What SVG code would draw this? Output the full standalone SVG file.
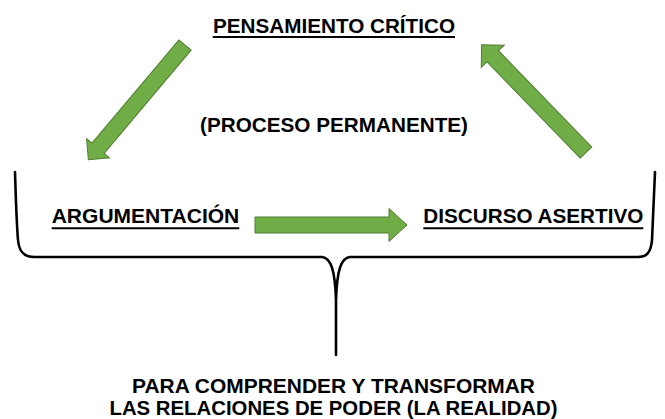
<svg xmlns="http://www.w3.org/2000/svg" width="665" height="419" viewBox="0 0 665 419">
  <style>
    .lbl { font-family: "Liberation Sans", Arial, sans-serif; font-weight: bold; font-size: 20.5px; fill: #000; text-anchor: middle; }
    .sm { font-size: 19.5px; }
    .ul { stroke: #000; stroke-width: 2; }
    .arrow { fill: #70AD47; stroke: #507E32; stroke-width: 1; stroke-linejoin: miter; }
    .brace { fill: none; stroke: #000; stroke-width: 2.6; stroke-linejoin: round; stroke-linecap: round; }
  </style>
  <rect width="665" height="419" fill="#fff"/>

  <g id="connectors">
    <polygon class="arrow" transform="translate(185,45) rotate(130.1)" points="0,-8 135,-8 135,-15 150,0 135,15 135,8 0,8"/>
    <polygon class="arrow" transform="translate(586,152.5) rotate(225.9)" points="0,-8 134,-8 134,-16 150,0 134,16 134,8 0,8"/>
    <polygon class="arrow" transform="translate(255,225)" points="0,-8 134,-8 134,-16.5 152,0 134,16.5 134,8 0,8"/>
    <path class="brace" d="M15,172 C16,205 17,228 18,240 C19,252 24,257 34,257 L322,257 C331,258 335,270 336,300 L336,355 M336,300 C337,270 341,258 350,257 L638,257 C647,257 651,252 652,240 L655,172"/>
  </g>

  <g id="pensamiento">
    <text class="lbl" x="334" y="33.3" textLength="242" lengthAdjust="spacingAndGlyphs">PENSAMIENTO CRÍTICO</text>
    <line class="ul" x1="212.7" y1="37" x2="455" y2="37"/>
  </g>

  <g id="proceso">
    <text class="lbl" x="334" y="131.5" textLength="268" lengthAdjust="spacingAndGlyphs">(PROCESO PERMANENTE)</text>
  </g>

  <g id="argumentacion">
    <text class="lbl" x="145.5" y="223.3" textLength="187.6" lengthAdjust="spacingAndGlyphs">ARGUMENTACIÓN</text>
    <line class="ul" x1="51.7" y1="228.3" x2="239.3" y2="228.3"/>
  </g>

  <g id="discurso">
    <text class="lbl" x="533.3" y="223.3" textLength="220" lengthAdjust="spacingAndGlyphs">DISCURSO ASERTIVO</text>
    <line class="ul" x1="423.3" y1="228.3" x2="643.3" y2="228.3"/>
  </g>

  <g id="conclusion">
    <text class="lbl sm" x="333.5" y="392.5" textLength="403" lengthAdjust="spacingAndGlyphs">PARA COMPRENDER Y TRANSFORMAR</text>
    <text class="lbl sm" x="333.5" y="415" textLength="448" lengthAdjust="spacingAndGlyphs">LAS RELACIONES DE PODER (LA REALIDAD)</text>
  </g>
</svg>
